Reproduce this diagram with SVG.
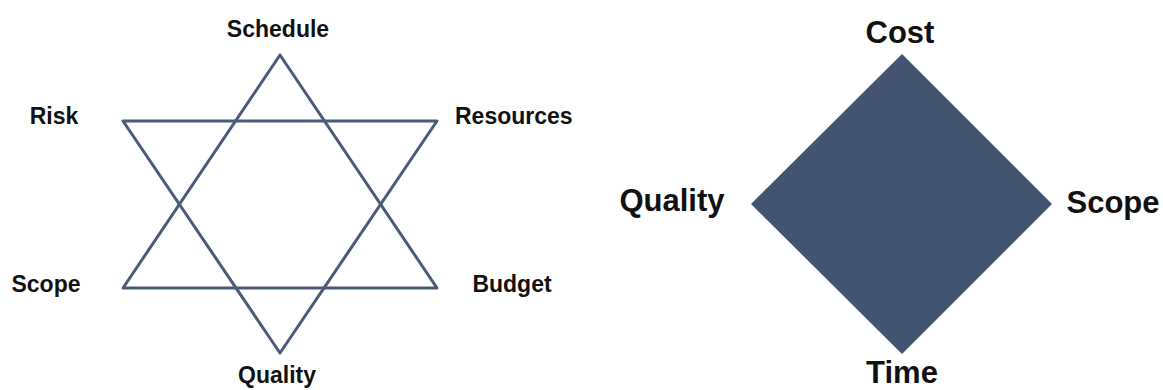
<svg xmlns="http://www.w3.org/2000/svg" width="1163" height="390" viewBox="0 0 1163 390">
<style>
.lbl{font-family:"Liberation Sans",Arial,sans-serif;font-weight:bold;fill:#111;}
.s{font-size:23px;}
.b{font-size:31px;}
.star{fill:none;stroke:#4b5a78;stroke-width:3;stroke-linejoin:round;}
.dia{fill:#435472;}
</style>
<rect width="1163" height="390" fill="#ffffff"/>
<g id="star">
<polygon class="star" points="280,55 437,288 123,288"/>
<polygon class="star" points="123,121 437,121 280,353"/>
</g>
<g id="diamond">
<polygon class="dia" points="902,54 1052,204 902,354 751,204"/>
</g>
<g id="labels-left">
<g id="schedule"><text class="lbl s" x="278" y="37" text-anchor="middle">Schedule</text></g>
<g id="risk"><text class="lbl s" x="54" y="124" text-anchor="middle">Risk</text></g>
<g id="resources"><text class="lbl s" x="455" y="124">Resources</text></g>
<g id="scope-left"><text class="lbl s" x="46" y="292" text-anchor="middle">Scope</text></g>
<g id="budget"><text class="lbl s" x="512" y="292" text-anchor="middle">Budget</text></g>
<g id="quality-bottom"><text class="lbl s" x="277" y="383" text-anchor="middle">Quality</text></g>
</g>
<g id="labels-right">
<g id="cost"><text class="lbl b" x="900" y="43" text-anchor="middle">Cost</text></g>
<g id="quality-right"><text class="lbl b" x="672" y="211" text-anchor="middle">Quality</text></g>
<g id="scope-right"><text class="lbl b" x="1113" y="213" text-anchor="middle">Scope</text></g>
<g id="time"><text class="lbl b" x="902" y="383" text-anchor="middle">Time</text></g>
</g>
</svg>
